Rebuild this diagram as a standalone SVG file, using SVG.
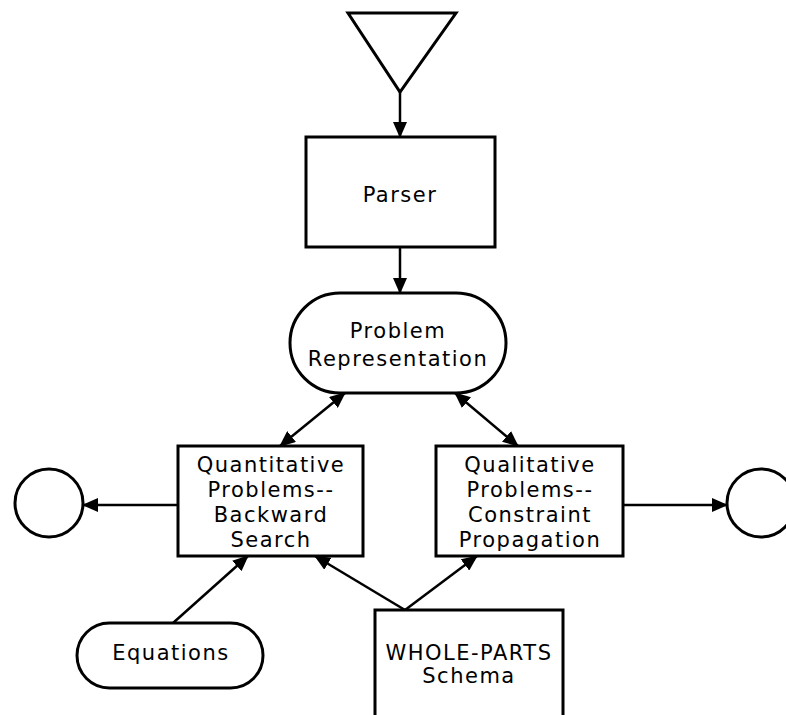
<svg xmlns="http://www.w3.org/2000/svg" width="786" height="715" viewBox="0 0 786 715">
<defs>
<marker id="ah" viewBox="0 0 16 14" refX="15" refY="7" markerWidth="16" markerHeight="14" markerUnits="userSpaceOnUse" orient="auto-start-reverse">
<path d="M0,0 L16,7 L0,14 Z" fill="#000"/>
</marker>
<style>
.s{fill:#fff;stroke:#000;stroke-width:3}
.t{font-family:"DejaVu Sans","Liberation Sans",sans-serif;font-size:21px;letter-spacing:1.5px;text-anchor:middle;dominant-baseline:central;fill:#000}
.c{fill:none;stroke:#000;stroke-width:2.5}
</style>
</defs>
<rect width="786" height="715" fill="#fff"/>
<g id="connectors">
<line class="c" x1="400" y1="92" x2="400" y2="137" marker-end="url(#ah)"/>
<line class="c" x1="400" y1="247" x2="400" y2="293" marker-end="url(#ah)"/>
<line class="c" x1="345" y1="393" x2="280" y2="446" marker-start="url(#ah)" marker-end="url(#ah)"/>
<line class="c" x1="455" y1="393" x2="518" y2="446" marker-start="url(#ah)" marker-end="url(#ah)"/>
<line class="c" x1="178" y1="505" x2="83" y2="505" marker-end="url(#ah)"/>
<line class="c" x1="623" y1="505" x2="727" y2="505" marker-end="url(#ah)"/>
<line class="c" x1="173" y1="623" x2="248" y2="556" marker-end="url(#ah)"/>
<line class="c" x1="405" y1="610" x2="315" y2="556" marker-end="url(#ah)"/>
<line class="c" x1="405" y1="610" x2="477" y2="556" marker-end="url(#ah)"/>
</g>
<g id="input">
<polygon class="s" points="348,13 456,13 400,92"/>
</g>
<g id="parser">
<rect class="s" x="306" y="137" width="189" height="110"/>
<text class="t" x="400" y="195">Parser</text>
</g>
<g id="problem-representation">
<rect class="s" x="290" y="293" width="216" height="100" rx="50" ry="50"/>
<text class="t" x="398" y="331">Problem</text>
<text class="t" x="398" y="359">Representation</text>
</g>
<g id="quantitative">
<rect class="s" x="178" y="446" width="185" height="110"/>
<text class="t" x="271" y="465">Quantitative</text>
<text class="t" x="271" y="490">Problems--</text>
<text class="t" x="271" y="515">Backward</text>
<text class="t" x="271" y="540">Search</text>
</g>
<g id="qualitative">
<rect class="s" x="436" y="446" width="187" height="110"/>
<text class="t" x="530" y="465">Qualitative</text>
<text class="t" x="530" y="490">Problems--</text>
<text class="t" x="530" y="515">Constraint</text>
<text class="t" x="530" y="540">Propagation</text>
</g>
<g id="left-output">
<circle class="s" cx="49" cy="503" r="34"/>
</g>
<g id="right-output">
<circle class="s" cx="761" cy="503" r="34"/>
</g>
<g id="equations">
<rect class="s" x="77" y="623" width="186" height="65" rx="32.5" ry="32.5"/>
<text class="t" x="171" y="653">Equations</text>
</g>
<g id="whole-parts">
<path class="s" d="M375,718 L375,610 L563,610 L563,718"/>
<text class="t" x="469" y="653">WHOLE-PARTS</text>
<text class="t" x="469" y="676">Schema</text>
</g>
</svg>
